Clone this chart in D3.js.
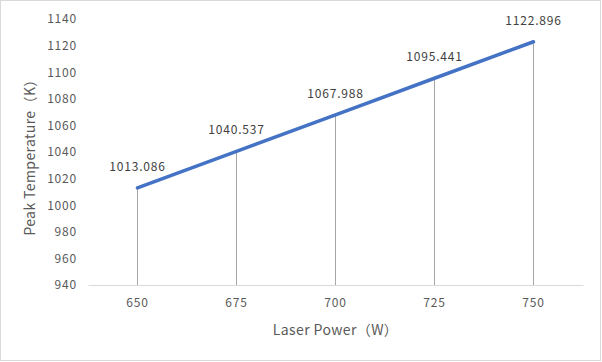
<!DOCTYPE html>
<html>
<head>
<meta charset="utf-8">
<script src="https://cdn.jsdelivr.net/npm/d3@7"></script>
<style>
	body { margin: 0; background: #fff; }
	svg text { font-family: "Noto Sans CJK SC", "Noto Sans", sans-serif; }
</style>
</head>
<body>
<svg width="602" height="362"></svg>
<script>
const powers = ['650', '675', '700', '725', '750'];
const peakTemps = [1013.086, 1040.537, 1067.988, 1095.441, 1122.896];
const yTicks = [940, 960, 980, 1000, 1020, 1040, 1060, 1080, 1100, 1120, 1140];

const svg = d3.select('svg'),
	margin = {left: 88, right: 19, top: 19, bottom: 77},
	width = 602,
	height = 362;

svg.append('rect')
	.attr('x', 0.5).attr('y', 0.5)
	.attr('width', width - 2).attr('height', height - 2)
	.attr('fill', '#fff')
	.attr('stroke', '#d9d9d9');

let x = d3.scaleBand()
	.domain(powers)
	.range([margin.left, width - margin.right]);

let y = d3.scaleLinear()
	.domain([940, 1140])
	.range([height - margin.bottom, margin.top]);

// y axis labels only
let yAxis = svg.append('g')
	.attr('transform', `translate(${margin.left}, 0)`)
	.call(d3.axisLeft(y).tickValues(yTicks).tickFormat(d3.format('d')).tickSize(0).tickPadding(11));
yAxis.select('.domain').remove();
yAxis.selectAll('text').attr('fill', '#595959').style('font-size', '12px').style('letter-spacing', '0.8px');

// x axis
let xAxis = svg.append('g')
	.attr('transform', `translate(0, ${y(940)})`)
	.call(d3.axisBottom(x).tickSize(0).tickPadding(13));
xAxis.select('.domain').attr('stroke', '#d9d9d9');
xAxis.selectAll('text').attr('fill', '#595959').style('font-size', '12px').style('letter-spacing', '0.8px');

// drop lines
svg.append('g')
	.selectAll('line')
	.data(peakTemps)
	.enter().append('line')
	.attr('x1', (d, i) => x(powers[i]) + x.bandwidth() / 2)
	.attr('x2', (d, i) => x(powers[i]) + x.bandwidth() / 2)
	.attr('y1', d => y(d))
	.attr('y2', y(940))
	.attr('stroke', '#a6a6a6')
	.attr('stroke-width', 1);

let line = d3.line()
	.x((d, i) => x(powers[i]) + x.bandwidth() / 2)
	.y(d => y(d));

svg.append('path')
	.datum(peakTemps)
	.attr('d', line)
	.attr('fill', 'none')
	.attr('stroke', '#4472c4')
	.attr('stroke-width', 3.5)
	.attr('stroke-linecap', 'round');

svg.append('g')
	.selectAll('text')
	.data(peakTemps)
	.enter().append('text')
	.attr('x', (d, i) => x(powers[i]) + x.bandwidth() / 2)
	.attr('y', d => y(d) - 17)
	.attr('text-anchor', 'middle')
	.attr('fill', '#404040')
	.style('font-size', '12px')
	.style('letter-spacing', '0.8px')
	.text(d => d.toFixed(3));

svg.append('text')
	.attr('x', (margin.left + width - margin.right) / 2)
	.attr('y', 335)
	.attr('text-anchor', 'middle')
	.attr('fill', '#595959')
	.style('font-size', '14px')
	.style('letter-spacing', '0.4px')
	.text('Laser Power（W）');

svg.append('text')
	.attr('transform', `translate(35, ${(y(940) + y(1140)) / 2 + 2}) rotate(-90)`)
	.attr('text-anchor', 'middle')
	.attr('fill', '#595959')
	.style('font-size', '14px')
	.style('letter-spacing', '0.4px')
	.text('Peak Temperature（K）');
</script>
</body>
</html>
